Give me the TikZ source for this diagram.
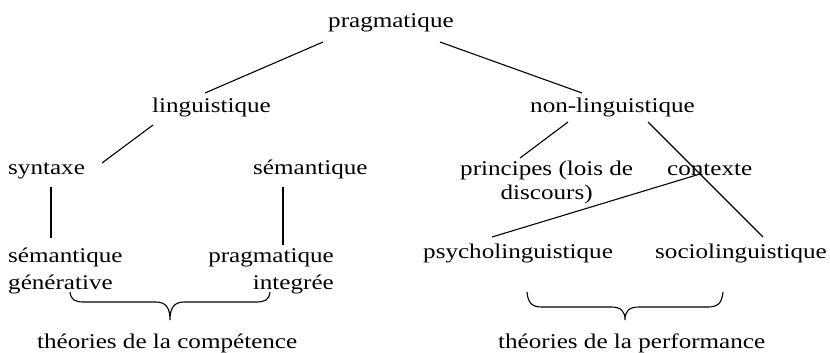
\documentclass[tikz,border=0pt]{standalone}
\usepackage{fontspec}
\setmainfont[FakeStretch=1.2]{Liberation Serif}
\usetikzlibrary{calc}
\begin{document}
\begin{tikzpicture}[x=1bp,y=-1bp,
  lbl/.style={inner sep=0pt, anchor=base west, font=\fontsize{21}{26.5}\selectfont},
  conn/.style={line width=1.1bp, black},
  bracestyle/.style={line width=1.1bp, black}]
\useasboundingbox (0,0) rectangle (830,352);
% nodes
\node[lbl] (prag) at (328,27) {pragmatique};
\node[lbl] (ling) at (152,112) {linguistique};
\node[lbl] (nonling) at (530,112) {non-linguistique};
\node[lbl] (syn) at (8,174) {syntaxe};
\node[lbl] (sem) at (253,174) {sémantique};
\node[lbl, align=center, font=\fontsize{21}{24}\selectfont] (princ) at (460,199) {principes (lois de\\discours)};
\node[lbl] (ctx) at (667,175) {contexte};
\node[lbl, align=left] (semgen) at (8,289) {sémantique\\générative};
\node[lbl, align=right, anchor=base east] (pragint) at (334,289) {pragmatique\\integrée};
\node[lbl] (psy) at (423,258) {psycholinguistique};
\node[lbl] (socio) at (655,258) {sociolinguistique};
\node[lbl] (theo1) at (37,348) {théories de la compétence};
\node[lbl] (theo2) at (498,348) {théories de la performance};
% connectors
\draw[conn] ($(prag.base west)+(-5,15)$) -- ($(ling.base west)+(53,-19)$);
\draw[conn] ($(prag.base west)+(112,15)$) -- ($(nonling.base west)+(52,-19)$);
\draw[conn] ($(ling.base west)+(1,13)$) -- ($(syn.base west)+(94,-11)$);
\draw[conn] ($(syn.base west)+(43,13)$) -- ($(semgen.base west)+(43,-51)$);
\draw[conn] ($(sem.base west)+(30,13)$) -- ($(pragint.base east)+(-51,-44)$);
\draw[conn] ($(nonling.base west)+(38,10)$) -- ($(princ.base west)+(60,-41)$);
\draw[conn] ($(nonling.base west)+(118,10)$) -- ($(socio.base west)+(108,-21)$);
\draw[conn] ($(ctx.base west)+(33,-1)$) -- ($(psy.base west)+(69,-21)$);
% braces
\coordinate (tip1) at (170,320);
\coordinate (tip2) at (625,320);
\draw[bracestyle] (70,292) .. controls (71,300) and (75,302) .. (84,302) -- (156,302)
  .. controls (166,302) and (170,308) .. (tip1)
  .. controls (170,308) and (174,302) .. (184,302) -- (256,302)
  .. controls (265,302) and (269,300) .. (270,292);
\draw[bracestyle] (527,292) .. controls (528,303) and (532,307) .. (542,307) -- (611,307)
  .. controls (621,307) and (625,311) .. (tip2)
  .. controls (625,311) and (629,307) .. (639,307) -- (708,307)
  .. controls (718,307) and (722,303) .. (723,292);
\end{tikzpicture}
\end{document}
